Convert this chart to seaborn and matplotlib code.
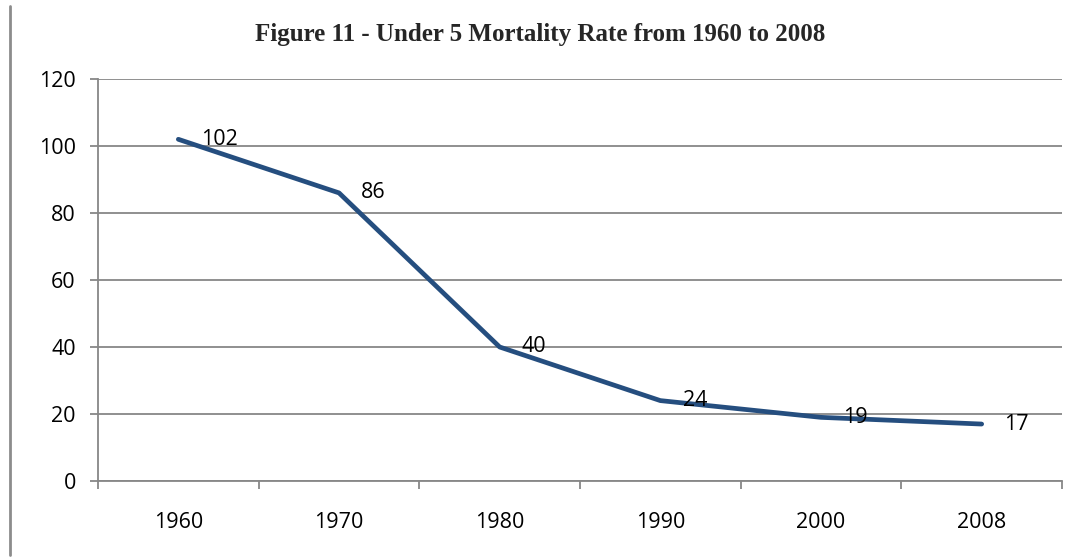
import matplotlib
matplotlib.use("Agg")
import matplotlib.pyplot as plt
from matplotlib.lines import Line2D
from matplotlib.ticker import FixedLocator
import pandas as pd
import seaborn as sns

# --- data ---
years = ["1960", "1970", "1980", "1990", "2000", "2008"]
rates = [102, 86, 40, 24, 19, 17]

sns.set_theme(style="white")
plt.rcParams["font.family"] = ["Open Sans", "DejaVu Sans"]

df = pd.DataFrame({"year": years, "rate": rates})

fig = plt.figure(figsize=(10.8, 5.59), dpi=100)
ax = fig.add_axes([98 / 1080, 1 - 481 / 559, (1062 - 98) / 1080, (481 - 79) / 559])

grid_col = "#878787"
line_col = "#254E7F"
fs = 15.5

sns.lineplot(data=df, x="year", y="rate", ax=ax, color=line_col, linewidth=3.4,
             sort=False, solid_capstyle="round", zorder=3)

# data labels to the right of each point
for i, v in enumerate(rates):
    ax.annotate(str(v), (i, v), xytext=(16, 0), textcoords="offset points",
                ha="left", va="center", fontsize=fs, color="black", zorder=4)

ax.set_xlim(-0.5, len(years) - 0.5)
ax.set_ylim(0, 120)
ax.set_yticks(range(0, 121, 20))
ax.set_xticks(range(len(years)))
ax.set_xticklabels(years)
ax.xaxis.set_minor_locator(FixedLocator([i - 0.5 for i in range(len(years) + 1)]))

ax.yaxis.grid(True, color=grid_col, linewidth=1.3)
ax.xaxis.grid(False)
ax.set_axisbelow(True)

for side in ["top", "right"]:
    ax.spines[side].set_visible(False)
for side in ["left", "bottom"]:
    ax.spines[side].set_color(grid_col)
    ax.spines[side].set_linewidth(1.3)

ax.tick_params(axis="y", which="major", left=True, length=6, width=1.3,
               color=grid_col, pad=10, labelsize=fs, labelcolor="black")
ax.tick_params(axis="x", which="major", bottom=False, length=0, pad=22,
               labelsize=fs, labelcolor="black")
ax.tick_params(axis="x", which="minor", bottom=True, length=6, width=1.3,
               color=grid_col)

ax.set_xlabel("")
ax.set_ylabel("")

fig.text(540 / 1080, 1 - 34 / 559, "Figure 11 - Under 5 Mortality Rate from 1960 to 2008",
         ha="center", va="center", fontsize=18, fontweight="bold",
         family=["Liberation Serif", "DejaVu Serif"])

# left border line of the frame
fig.add_artist(Line2D([10 / 1080, 10 / 1080], [1 - 555 / 559, 1 - 6 / 559],
                      transform=fig.transFigure, color="#8C8C8C", linewidth=2))

fig.savefig("out.png", dpi=100, facecolor="white")
